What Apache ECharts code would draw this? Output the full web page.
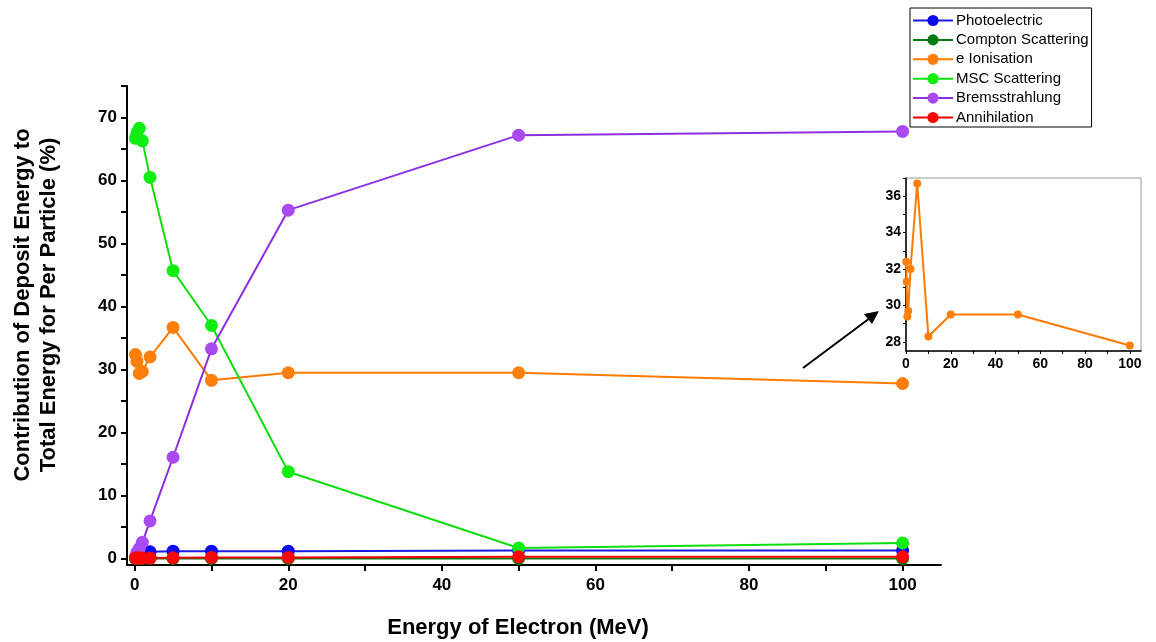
<!DOCTYPE html>
<html>
<head>
<meta charset="utf-8">
<script src="https://cdn.jsdelivr.net/npm/echarts@6/dist/echarts.min.js"></script>
<style>html,body{margin:0;padding:0;background:#fff}#c{width:1156px;height:642px}</style>
</head>
<body>
<div id="c"></div>
<script>
const energies = [0.1, 0.3, 0.6, 1, 2, 5, 10, 20, 50, 100];
const photoelectric = [0.1, 0.3, 0.6, 0.8, 1.1, 1.2, 1.2, 1.2, 1.3, 1.3];
const compton = [0.05, 0.05, 0.05, 0.05, 0.05, 0.05, 0.05, 0.05, 0.05, 0.05];
const eIonisation = [32.4, 31.3, 29.4, 29.7, 32.0, 36.7, 28.3, 29.5, 29.5, 27.8];
const mscScattering = [66.7, 67.6, 68.3, 66.3, 60.5, 45.7, 37.0, 13.8, 1.7, 2.5];
const bremsstrahlung = [0.3, 1.0, 1.6, 2.6, 6.0, 16.1, 33.3, 55.3, 67.2, 67.8];
const annihilation = [0.1, 0.1, 0.1, 0.1, 0.1, 0.15, 0.2, 0.2, 0.3, 0.3];
const seriesNames = ['Photoelectric', 'Compton Scattering', 'e Ionisation', 'MSC Scattering', 'Bremsstrahlung', 'Annihilation'];
const mainXLabels = [0, 20, 40, 60, 80, 100];
const mainXTicks = [0, 10, 20, 30, 40, 50, 60, 70, 80, 90, 100];
const mainYLabels = [0, 10, 20, 30, 40, 50, 60, 70];
const mainYTicks = [0, 5, 10, 15, 20, 25, 30, 35, 40, 45, 50, 55, 60, 65, 70, 75];
const insetYLabels = [28, 30, 32, 34, 36];
const insetYTicks = [28, 29, 30, 31, 32, 33, 34, 35, 36, 37];

const pairs = arr => energies.map((e, i) => [e, arr[i]]);
const FONT = 'Liberation Sans, Arial, sans-serif';

function mk(name, data, dot, line) {
  return {
    name, type: 'line', data: pairs(data), xAxisIndex: 0, yAxisIndex: 0,
    symbol: 'circle', symbolSize: 13,
    itemStyle: { color: dot }, lineStyle: { color: line, width: 2 },
    emphasis: { disabled: true }, animation: false
  };
}

const chart = echarts.init(document.getElementById('c'), null, { renderer: 'canvas' });
chart.setOption({
  animation: false,
  backgroundColor: '#fff',
  textStyle: { fontFamily: FONT },
  grid: [
    { left: 127, right: 215, top: 86, bottom: 77, show: false },
    { left: 906, right: 15, top: 178, bottom: 291, show: true, borderColor: '#999', borderWidth: 1, backgroundColor: 'transparent' }
  ],
  legend: {
    orient: 'vertical', left: 910, top: 8,
    data: seriesNames,
    itemWidth: 40, itemHeight: 14, itemGap: 4.4,
    padding: [5, 3, 2, 2],
    borderColor: '#000', borderWidth: 1,
    textStyle: { fontSize: 15, color: '#000', fontFamily: FONT, padding: [0, 0, 0, -2] }
  },
  xAxis: [
    {
      gridIndex: 0, type: 'value', min: -1, max: 105,
      axisLine: { show: true, onZero: false, lineStyle: { color: '#000', width: 2 } },
      axisTick: { show: true, inside: false, length: 6, lineStyle: { color: '#000', width: 2 }, customValues: mainXTicks },
      axisLabel: { customValues: mainXLabels, fontSize: 17, fontWeight: 'bold', color: '#000', margin: 12, fontFamily: FONT },
      splitLine: { show: false }
    },
    {
      gridIndex: 1, type: 'value', min: 0, max: 105,
      axisLine: { show: true, onZero: false, lineStyle: { color: '#000', width: 1.5 } },
      axisTick: { show: true, length: 3, lineStyle: { color: '#000' }, customValues: mainXTicks },
      axisLabel: { customValues: mainXLabels, fontSize: 14, fontWeight: 'bold', color: '#000', margin: 6, fontFamily: FONT },
      splitLine: { show: false }
    }
  ],
  yAxis: [
    {
      gridIndex: 0, type: 'value', min: -1, max: 75,
      axisLine: { show: true, onZero: false, lineStyle: { color: '#000', width: 2 } },
      axisTick: { show: true, length: 6, lineStyle: { color: '#000', width: 2 }, customValues: mainYTicks },
      axisLabel: { customValues: mainYLabels, fontSize: 17, fontWeight: 'bold', color: '#000', margin: 10, fontFamily: FONT },
      splitLine: { show: false }
    },
    {
      gridIndex: 1, type: 'value', min: 27.5, max: 37,
      axisLine: { show: true, onZero: false, lineStyle: { color: '#000', width: 1.5 } },
      axisTick: { show: true, length: 3, lineStyle: { color: '#000' }, customValues: insetYTicks },
      axisLabel: { customValues: insetYLabels, fontSize: 14, fontWeight: 'bold', color: '#000', margin: 5, fontFamily: FONT },
      splitLine: { show: false }
    }
  ],
  series: [
    mk(seriesNames[0], photoelectric, '#0a0af0', '#1a1ae0'),
    mk(seriesNames[1], compton, '#007a10', '#007a10'),
    mk(seriesNames[2], eIonisation, '#ff7f0a', '#ff7a00'),
    mk(seriesNames[3], mscScattering, '#10ee10', '#10dd10'),
    mk(seriesNames[4], bremsstrahlung, '#a74af2', '#8b2fe0'),
    mk(seriesNames[5], annihilation, '#ff0505', '#f00000'),
    {
      name: 'inset', type: 'line', data: pairs(eIonisation), xAxisIndex: 1, yAxisIndex: 1,
      symbol: 'circle', symbolSize: 8,
      itemStyle: { color: '#ff7f0a' }, lineStyle: { color: '#ff7a00', width: 2 },
      emphasis: { disabled: true }, animation: false
    }
  ],
  graphic: [
    {
      type: 'text', rotation: Math.PI / 2, x: 36, y: 305,
      style: {
        text: 'Contribution of Deposit Energy to\nTotal Energy for Per Particle (%)',
        fontSize: 22, fontWeight: 'bold', fill: '#000', fontFamily: FONT,
        align: 'center', verticalAlign: 'middle', lineHeight: 26
      }
    },
    {
      type: 'text', x: 518, y: 628,
      style: {
        text: 'Energy of Electron (MeV)', fontSize: 22, fontWeight: 'bold', fill: '#000', fontFamily: FONT,
        align: 'center', verticalAlign: 'middle'
      }
    },
    {
      type: 'line', shape: { x1: 803, y1: 368, x2: 870, y2: 318 },
      style: { stroke: '#000', lineWidth: 2 }
    },
    {
      type: 'polygon', shape: { points: [[879, 311], [864, 314], [872, 324]] },
      style: { fill: '#000' }
    }
  ]
});
</script>
</body>
</html>
